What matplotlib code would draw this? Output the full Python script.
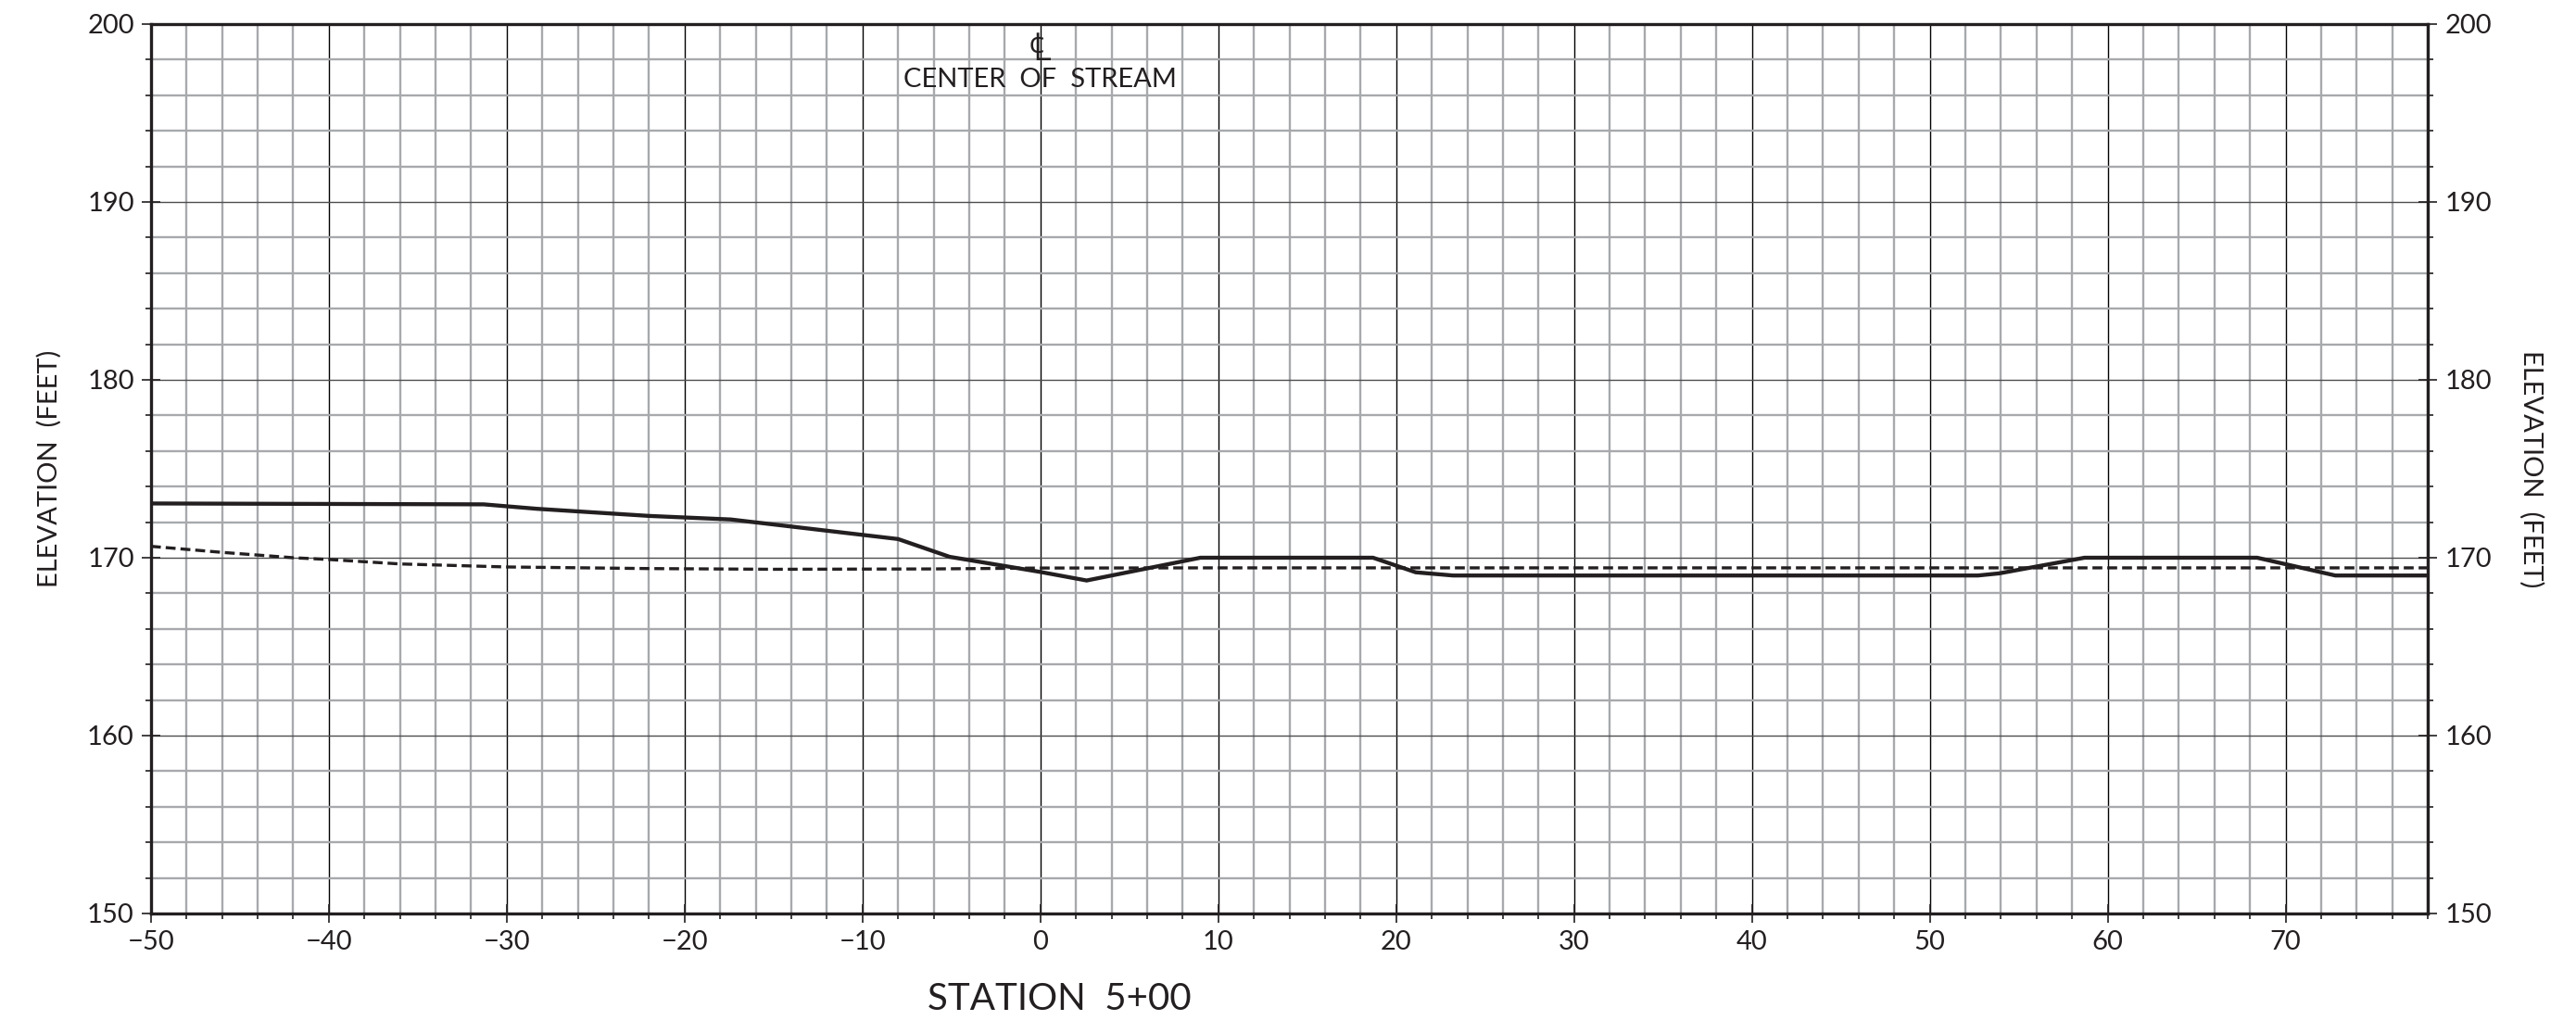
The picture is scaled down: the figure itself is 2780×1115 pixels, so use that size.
# -*- coding: utf-8 -*-
# --------------------
# System wide imports
# -------------------

import matplotlib

matplotlib.use("Agg")

# ---------------------
# Thrid-party libraries
# ---------------------

import matplotlib.pyplot as plt
from matplotlib.ticker import MultipleLocator

# ----------------
# Module constants
# ----------------

# Cross section data (offset from centre line in feet, elevation in feet)
ground_offset = [-50, -31.3, -28.3, -22.0, -17.4, -8.0, -5.1, 0.0, 2.6, 9.0,
                 18.7, 21.1, 23.2, 52.7, 53.9, 58.7, 68.4, 72.8, 78]
ground_elev = [173.05, 173.0, 172.75, 172.35, 172.15, 171.05, 170.05, 169.2, 168.72, 170.0,
               170.0, 169.18, 169.0, 169.0, 169.12, 170.0, 170.0, 169.0, 169.0]

water_offset = [-50, -46, -42, -40, -36, -30, -22, -15, -6, 0, 10, 78]
water_elev = [170.64, 170.3, 170.0, 169.9, 169.65, 169.48, 169.39, 169.35, 169.37, 169.42, 169.43, 169.43]

x_limits = (-50, 78)
y_limits = (150, 200)
x_major = list(range(-50, 71, 10))
y_major = list(range(150, 201, 10))

FONT = ["Lato", "DejaVu Sans"]
SYMBOL_FONTS = ["Noto Sans", "Liberation Sans", "Noto Sans CJK JP", "Noto Sans CJK SC",
                "Open Sans", "Roboto", "Inter", "DejaVu Sans"]
INK = "#231f20"

# -----------------
# Matplotlib styles
# -----------------

plt.rcParams["font.family"] = FONT
plt.rcParams["axes.unicode_minus"] = True

# ------------------
# Auxiliary fnctions
# ------------------


def draw_grid(axes):
    axes.xaxis.set_minor_locator(MultipleLocator(2))
    axes.yaxis.set_minor_locator(MultipleLocator(2))
    axes.set_xticks(x_major)
    axes.set_yticks(y_major)
    axes.grid(True, which="minor", color="#a7a9ac", linewidth=1.7, zorder=0)
    axes.grid(True, which="major", axis="x", color="black", linewidth=1.0, zorder=1)
    axes.grid(True, which="major", axis="y", color="#4d4d4f", linewidth=1.0, zorder=1)
    axes.set_axisbelow(True)


def style_ticks(axes):
    axes.tick_params(which="major", direction="inout", length=14, width=1.2,
                     color=INK, labelsize=21, labelcolor=INK, pad=6)
    axes.tick_params(which="minor", direction="out", length=4, width=1.2, color=INK)
    axes.tick_params(axis="y", which="both", left=True, right=True,
                     labelleft=True, labelright=True)
    for spine in axes.spines.values():
        spine.set_linewidth(2.4)
        spine.set_color(INK)
        spine.set_zorder(5)


def plot_section():
    fig = plt.figure(figsize=(27.8, 11.15), dpi=100)
    axes = fig.add_axes([0.0586, 0.1157, 0.8839, 0.8610])
    axes.set_xlim(*x_limits)
    axes.set_ylim(*y_limits)
    draw_grid(axes)
    style_ticks(axes)

    axes.plot(ground_offset, ground_elev, color=INK, linewidth=3.1,
              solid_joinstyle="miter", zorder=3)
    axes.plot(water_offset, water_elev, color=INK, linewidth=2.4,
              linestyle=(0, (3.2, 1.6)), zorder=3)

    axes.text(0, 198.55, "\u2104", ha="center", va="center", fontsize=30,
              color=INK, family=SYMBOL_FONTS, zorder=4)
    axes.text(0, 196.88, "CENTER  OF  STREAM", ha="center", va="center",
              fontsize=21, color=INK, zorder=4)

    fig.text(0.019, 0.546, "ELEVATION  (FEET)", rotation=90, ha="center",
             va="center", fontsize=21, color=INK)
    fig.text(0.9827, 0.546, "ELEVATION  (FEET)", rotation=270, ha="center",
             va="center", fontsize=21, color=INK)
    fig.text(0.4112, 0.033, "STATION  5+00", ha="center", va="center",
             fontsize=29, color=INK)

    fig.savefig("out.png", dpi=100, facecolor="white")


# ================
# MAIN ENTRY POINT
# ================

if __name__ == "__main__":
    plot_section()
